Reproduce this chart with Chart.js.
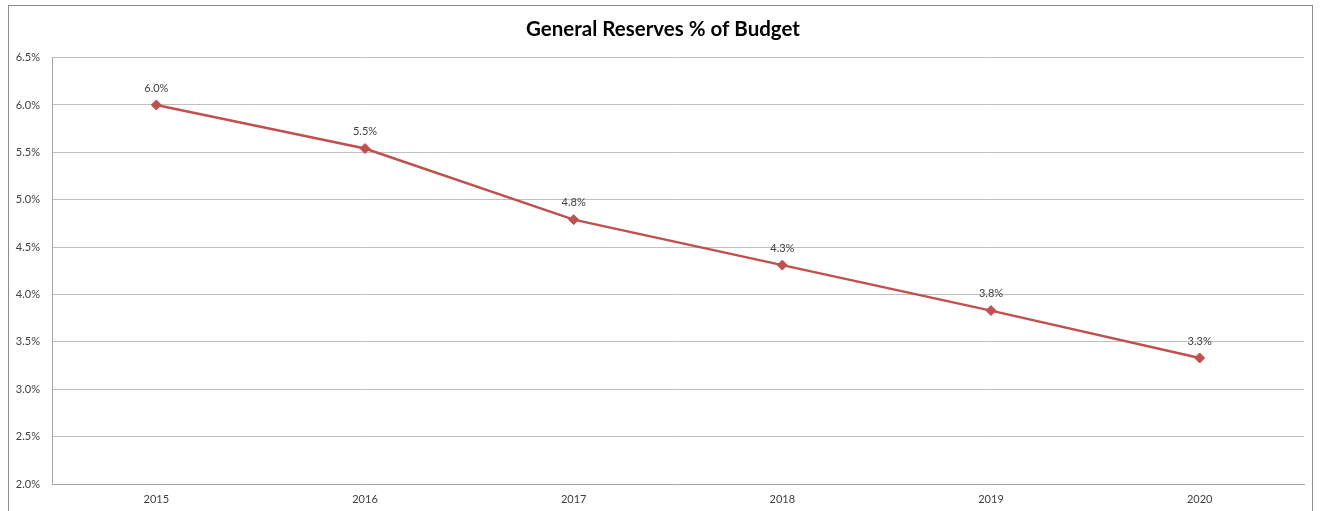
<!DOCTYPE html>
<html>
<head>
<meta charset="utf-8">
<title>General Reserves % of Budget</title>
<script src="https://cdn.jsdelivr.net/npm/chart.js@4"></script>
<style>
  html, body { margin: 0; padding: 0; background: #fff; overflow: hidden; }
  .frame {
    position: absolute; left: 8px; top: 5px; width: 1305px; height: 540px;
    border: 1px solid #8c8c8c; box-sizing: border-box;
  }
  .wrap { position: absolute; left: 0; top: 0; width: 1321px; height: 511px; }
</style>
</head>
<body>
<div class="frame"></div>
<div class="wrap"><canvas id="c"></canvas></div>
<script>
  // data
  var years = ["2015", "2016", "2017", "2018", "2019", "2020"];
  var reservesPct = [6.0, 5.54, 4.79, 4.31, 3.83, 3.33];
  var yTicks = [2.0, 2.5, 3.0, 3.5, 4.0, 4.5, 5.0, 5.5, 6.0, 6.5];

  var FONT = "Lato, Carlito, 'Open Sans', sans-serif";
  var RED = "#C0504D";

  /* value labels above each point */
  var pointLabels = {
    id: "pointLabels",
    afterDatasetsDraw: function (chart) {
      var ctx = chart.ctx;
      var meta = chart.getDatasetMeta(0);
      ctx.save();
      ctx.font = "11px " + FONT;
      ctx.fillStyle = "#404040";
      ctx.textAlign = "center";
      ctx.textBaseline = "middle";
      meta.data.forEach(function (pt, i) {
        ctx.fillText(reservesPct[i].toFixed(1) + "%", pt.x, pt.y - 17);
      });
      ctx.restore();
    }
  };

  /* centre the title over the whole frame rather than the padded box */
  var titleNudge = {
    id: "titleNudge",
    afterLayout: function (chart) {
      var t = chart.titleBlock;
      if (!t) return;
      t.left += 7;
      t.right += 7;
    }
  };

  new Chart(document.getElementById("c"), {
    type: "line",
    data: {
      labels: years,
      datasets: [{
        label: "General Reserves % of Budget",
        data: reservesPct,
        borderColor: RED,
        backgroundColor: RED,
        borderWidth: 2.5,
        pointStyle: "rectRot",
        pointRadius: 5,
        pointBackgroundColor: RED,
        pointBorderColor: RED,
        pointBorderWidth: 1,
        tension: 0
      }]
    },
    options: {
      responsive: true,
      maintainAspectRatio: false,
      animation: false,
      layout: { padding: { left: 8, right: 17, top: 5, bottom: 0 } },
      plugins: {
        legend: { display: false },
        tooltip: { enabled: false },
        title: {
          display: true,
          text: "General Reserves % of Budget",
          color: "#000",
          font: { family: FONT, size: 20.5, weight: "bold", lineHeight: 1.2 },
          padding: { top: 12, bottom: 16 }
        }
      },
      scales: {
        x: {
          offset: true,
          grid: { display: false, drawTicks: false },
          border: { color: "#a6a6a6", width: 1 },
          ticks: { color: "#404040", font: { family: FONT, size: 11 }, padding: 9, maxRotation: 0 },
          afterFit: function (s) { s.height = 27; }
        },
        y: {
          min: 2.0,
          max: 6.5,
          afterBuildTicks: function (s) { s.ticks = yTicks.map(function (v) { return { value: v }; }); },
          grid: { color: "#bfbfbf", drawTicks: false },
          border: { color: "#a6a6a6", width: 1 },
          ticks: {
            color: "#404040",
            font: { family: FONT, size: 11 },
            padding: 12,
            callback: function (v) { return Number(v).toFixed(1) + "%"; }
          },
          afterFit: function (s) { s.width = 44; }
        }
      }
    },
    plugins: [pointLabels, titleNudge]
  });
</script>
</body>
</html>
